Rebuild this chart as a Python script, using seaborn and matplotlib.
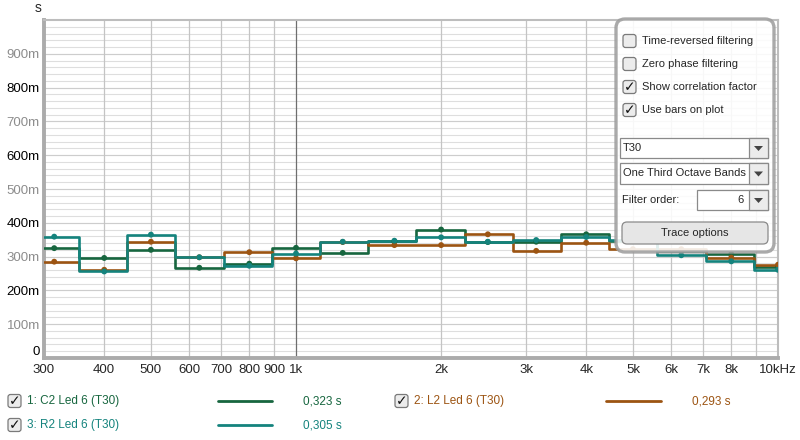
import matplotlib
matplotlib.use("Agg")
import matplotlib.pyplot as plt
import matplotlib.patches as mpatches
import seaborn as sns

# one third octave bands shown on the plot
band_centers = [315, 400, 500, 630, 800, 1000, 1250, 1600, 2000, 2500, 3150, 4000, 5000, 6300, 8000, 10000]
band_edges = [300, 355, 447, 562, 708, 891, 1122, 1413, 1778, 2239, 2818, 3548, 4467, 5623, 7079, 8913, 10000]

# T30 per band (seconds)
c2_rt = [0.325, 0.296, 0.320, 0.267, 0.279, 0.326, 0.311, 0.345, 0.380, 0.343, 0.344, 0.366, 0.345, 0.318, 0.307, 0.269]
l2_rt = [0.285, 0.261, 0.344, 0.298, 0.313, 0.295, 0.343, 0.334, 0.334, 0.366, 0.317, 0.341, 0.322, 0.322, 0.297, 0.276]
r2_rt = [0.359, 0.256, 0.365, 0.298, 0.273, 0.309, 0.344, 0.347, 0.357, 0.344, 0.349, 0.358, 0.350, 0.304, 0.286, 0.261]

trace_names = ["1: C2 Led 6 (T30)", "2: L2 Led 6 (T30)", "3: R2 Led 6 (T30)"]
trace_values = ["0,323 s", "0,293 s", "0,305 s"]
trace_colors = ["#17663f", "#9c5412", "#14837d"]

x_ticks = [300, 400, 500, 600, 700, 800, 900, 1000, 2000, 3000, 4000, 5000, 6000, 7000, 8000, 9000, 10000]
x_labels = ["300", "400", "500", "600", "700", "800", "900", "1k", "2k", "3k", "4k", "5k", "6k", "7k", "8k", "", "10kHz"]
y_ticks = [0, 0.1, 0.2, 0.3, 0.4, 0.5, 0.6, 0.7, 0.8, 0.9]
y_labels = ["0", "100m", "200m", "300m", "400m", "500m", "600m", "700m", "800m", "900m"]

sns.set_style("white")
plt.rcParams["font.family"] = ["Liberation Sans", "DejaVu Sans"]

W, H = 800, 440
fig = plt.figure(figsize=(8, 4.4), dpi=100)
ax = fig.add_axes([44 / W, 1 - 358 / H, (778 - 44) / W, (358 - 20) / H])

# grid
for y in [i * 0.02 for i in range(1, 50)]:
    ax.axhline(y, color="#dedede", lw=0.8, zorder=0)
for y in y_ticks[1:]:
    ax.axhline(y, color="#cdcdcd", lw=0.8, zorder=0)
for x in x_ticks:
    ax.axvline(x, color="#6e6e6e" if x == 1000 else "#c4c4c4", lw=0.9, zorder=0)

for vals, col in zip([c2_rt, l2_rt, r2_rt], trace_colors):
    sns.lineplot(x=band_edges, y=vals + [vals[-1]], drawstyle="steps-post",
                 color=col, lw=1.9, ax=ax, zorder=3)
    sns.scatterplot(x=band_centers, y=vals, color=col, s=18, edgecolor="none",
                    ax=ax, zorder=4)

ax.set_xscale("log")
ax.set_xlim(300, 10000)
ax.set_ylim(0, 1.0)
ax.set_xticks(x_ticks)
ax.set_xticklabels(x_labels)
ax.minorticks_off()
ax.set_yticks(y_ticks)
ax.set_yticklabels(y_labels)
ax.tick_params(axis="both", length=0, labelsize=9.5)
ax.tick_params(axis="x", pad=4)
ax.tick_params(axis="y", pad=3)
for lab, t in zip(ax.get_yticklabels(), y_ticks):
    lab.set_color("#000000" if round(t * 10) % 2 == 0 else "#8c8c8c")
ax.get_yticklabels()[0].set_va("bottom")
for side in ["left", "bottom"]:
    ax.spines[side].set_color("#ababab")
    ax.spines[side].set_linewidth(2.8)
for side in ["top", "right"]:
    ax.spines[side].set_color("#bdbdbd")
    ax.spines[side].set_linewidth(1.5)
ax.set_xlabel("")
ax.set_ylabel("")

# overlay in pixel coordinates for the panel and the trace list
ov = fig.add_axes([0, 0, 1, 1], zorder=10)
ov.set_xlim(0, W)
ov.set_ylim(H, 0)
ov.axis("off")
ov.patch.set_alpha(0)

ov.text(38, 8, "s", fontsize=10, ha="center", va="center")


def checkbox(x, y, checked, size=13):
    box = mpatches.FancyBboxPatch((x, y - size / 2), size, size,
                                  boxstyle="round,pad=0,rounding_size=2.5",
                                  fc="#ececec", ec="#7a7a7a", lw=0.9)
    ov.add_patch(box)
    if checked:
        ov.text(x + size / 2, y + 0.5, "\u2713", fontsize=10, ha="center", va="center",
                family="DejaVu Sans", fontweight="bold", color="#111111")


# control panel
panel = mpatches.FancyBboxPatch((616, 19), 158, 233, boxstyle="round,pad=0,rounding_size=9",
                                fc="white", ec="#9e9e9e", lw=2.4, alpha=0.88)
ov.add_patch(panel)
opts = [("Time-reversed filtering", False), ("Zero phase filtering", False),
        ("Show correlation factor", True), ("Use bars on plot", True)]
for i, (txt, chk) in enumerate(opts):
    yy = 41 + i * 23
    checkbox(623, yy, chk)
    ov.text(642, yy, txt, fontsize=8, ha="left", va="center")


def combo(x0, x1, y0, y1, txt, ha="left"):
    ov.add_patch(mpatches.Rectangle((x0, y0), x1 - x0, y1 - y0, fc="white", ec="#8a8a8a", lw=0.9))
    ov.add_patch(mpatches.Rectangle((x1 - 19, y0), 19, y1 - y0, fc="#ececec", ec="#8a8a8a", lw=0.9))
    ov.add_patch(mpatches.Polygon([(x1 - 14, (y0 + y1) / 2 - 2), (x1 - 5, (y0 + y1) / 2 - 2),
                                   (x1 - 9.5, (y0 + y1) / 2 + 3)], fc="#444444", ec="none"))
    if ha == "left":
        ov.text(x0 + 3, (y0 + y1) / 2, txt, fontsize=8, ha="left", va="center")
    else:
        ov.text(x1 - 24, (y0 + y1) / 2, txt, fontsize=8, ha="right", va="center")


combo(620, 768, 138, 158, "T30")
combo(620, 768, 163, 184, "One Third Octave Bands")
ov.text(622, 200, "Filter order:", fontsize=8, ha="left", va="center")
combo(697, 768, 190, 210, "6", ha="right")
btn = mpatches.FancyBboxPatch((622, 222), 146, 22, boxstyle="round,pad=0,rounding_size=5",
                              fc="#e6e6e6", ec="#8a8a8a", lw=0.9)
ov.add_patch(btn)
ov.text(695, 233, "Trace options", fontsize=8, ha="center", va="center")

# trace list below the plot
rows = [(8, 401), (395, 401), (8, 425)]
line_x = [(218, 272), (606, 661), (218, 272)]
val_x = [303, 692, 303]
for i in range(3):
    cx, cy = rows[i]
    checkbox(cx, cy, True)
    ov.text(cx + 19, cy, trace_names[i], fontsize=8.5, color=trace_colors[i], ha="left", va="center")
    ov.plot(line_x[i], [cy, cy], color=trace_colors[i], lw=2)
    ov.text(val_x[i], cy, trace_values[i], fontsize=8.5, color=trace_colors[i], ha="left", va="center")

fig.savefig("out.png", dpi=100)
